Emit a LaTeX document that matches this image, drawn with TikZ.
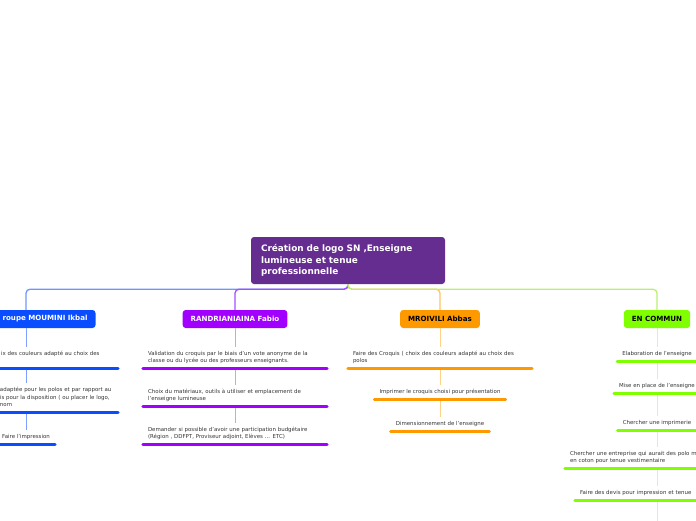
\documentclass[tikz,border=0pt]{standalone}
\usepackage{fontspec}
\setmainfont{DejaVu Sans}
\definecolor{rootc}{HTML}{662D91}
\definecolor{bluec}{HTML}{0A4CFF}
\definecolor{purc}{HTML}{A100FF}
\definecolor{orac}{HTML}{FF9900}
\definecolor{limc}{HTML}{80FF00}
\definecolor{bluel}{HTML}{7FA0FF}
\definecolor{purl}{HTML}{D599FF}
\definecolor{oral}{HTML}{FFD28A}
\definecolor{liml}{HTML}{CCFF99}
\definecolor{bluem}{HTML}{6F96FF}
\definecolor{purm}{HTML}{A64DFF}
\definecolor{oram}{HTML}{FFC266}
\definecolor{limm}{HTML}{B8F070}
\definecolor{textc}{HTML}{333333}
\newcommand{\lastdp}{\rule[-1pt]{0pt}{1pt}}
\begin{document}
\begin{tikzpicture}[x=1pt,y=-1pt,
  rootbox/.style={fill=rootc, rounded corners=3pt, text=white, font=\fontsize{8.9}{11.2}\selectfont\bfseries,
    align=left, text width=174pt, inner xsep=10pt, minimum height=47pt},
  branch/.style={rounded corners=3pt, font=\fontsize{7.1}{8}\selectfont\bfseries, minimum height=18pt, inner xsep=8pt},
  subbase/.style={font=\fontsize{5.45}{7.5}\selectfont, text=textc, inner xsep=5pt, inner ysep=4pt, anchor=south},
  sub/.style={subbase, text depth=1pt},
  wide/.style={subbase, text width=174pt, align=left},
  hconn/.style={line width=1.3pt, rounded corners=4pt},
  vconn/.style={line width=1pt},
  uline/.style={line width=3pt, line cap=round}
]
\useasboundingbox (0,0) rectangle (696,520);

% root
\node[rootbox] (root) at (348,260.5) {Création de logo SN ,Enseigne\\lumineuse et tenue\\professionnelle};

% branch nodes
\node[branch, fill=bluec, text=white, text width=123pt, align=right] (B) at (26,319) {roupe MOUMINI Ikbal};
\node[branch, fill=purc, text=white] (P) at (235,319) {RANDRIANIAINA Fabio};
\node[branch, fill=orac, text=black] (O) at (440,319) {MROIVILI Abbas};
\node[branch, fill=limc, text=black] (L) at (657,319) {EN COMMUN};

% root connectors
\draw[hconn, bluem] (root.south) -- ++(0,5) -| (B.north);
\draw[hconn, purm] (root.south) -- ++(0,5) -| (P.north);
\draw[hconn, oram] (root.south) -- ++(0,5) -| (O.north);
\draw[hconn, limm] (root.south) -- ++(0,5) -| (L.north);

% blue subnodes
\node[wide] (b1) at (26,368) {\hspace*{62pt}ix des couleurs adapté au choix des\\ \mbox{}\lastdp};
\node[wide] (b2) at (26,412) {\hspace*{61pt}adaptée pour les polos et par rapport au\\\hspace*{61pt}is pour la disposition ( ou placer le logo,\\\hspace*{61pt}nom\lastdp};
\node[sub] (b3) at (26,444) {Faire l'impression};
\draw[vconn, bluel] (B.south) -- (b1.north);
\draw[vconn, bluel] (b1.south) -- (b2.north);
\draw[vconn, bluel] (b2.south) -- (b3.north);
\foreach \n in {b1,b2,b3} \draw[uline, bluec] (\n.south west) -- (\n.south east);

% purple subnodes
\node[wide] (p1) at (235,368) {Validation du croquis par le biais d'un vote anonyme de la\\classe ou du lycée ou des professeurs enseignants.\lastdp};
\node[wide] (p2) at (235,406) {Choix du matériaux, outils à utiliser et emplacement de\\l'enseigne lumineuse\lastdp};
\node[wide] (p3) at (235,444) {Demander si possible d'avoir une participation budgétaire\\(Région , DDFPT, Proviseur adjoint, Elèves ... ETC)\lastdp};
\draw[vconn, purl] (P.south) -- (p1.north);
\draw[vconn, purl] (p1.south) -- (p2.north);
\draw[vconn, purl] (p2.south) -- (p3.north);
\foreach \n in {p1,p2,p3} \draw[uline, purc] (\n.south west) -- (\n.south east);

% orange subnodes
\node[wide] (o1) at (440,368) {Faire des Croquis ( choix des couleurs adapté au choix des\\polos\lastdp};
\node[sub] (o2) at (440,399) {Imprimer le croquis choisi pour présentation};
\node[sub] (o3) at (440,431) {Dimensionnement de l'enseigne};
\draw[vconn, oral] (O.south) -- (o1.north);
\draw[vconn, oral] (o1.south) -- (o2.north);
\draw[vconn, oral] (o2.south) -- (o3.north);
\foreach \n in {o1,o2,o3} \draw[uline, orac] (\n.south west) -- (\n.south east);

% lime subnodes
\node[sub] (l1) at (657,361) {Elaboration de l'enseigne};
\node[sub] (l2) at (657,393) {Mise en place de l'enseigne};
\node[sub] (l3) at (657,430) {Chercher une imprimerie};
\node[wide] (l4) at (657,468) {Chercher une entreprise qui aurait des polo m\\en coton pour tenue vestimentaire\lastdp};
\node[sub, text width=154pt, align=left] (l5) at (657,500) {Faire des devis pour impression et tenue};
\coordinate (l6) at (657,530);
\draw[vconn, liml] (L.south) -- (l1.north);
\draw[vconn, liml] (l1.south) -- (l2.north);
\draw[vconn, liml] (l2.south) -- (l3.north);
\draw[vconn, liml] (l3.south) -- (l4.north);
\draw[vconn, liml] (l4.south) -- (l5.north);
\draw[vconn, liml] (l5.south) -- (l6);
\foreach \n in {l1,l2,l3,l4,l5} \draw[uline, limc] (\n.south west) -- (\n.south east);
\end{tikzpicture}
\end{document}
